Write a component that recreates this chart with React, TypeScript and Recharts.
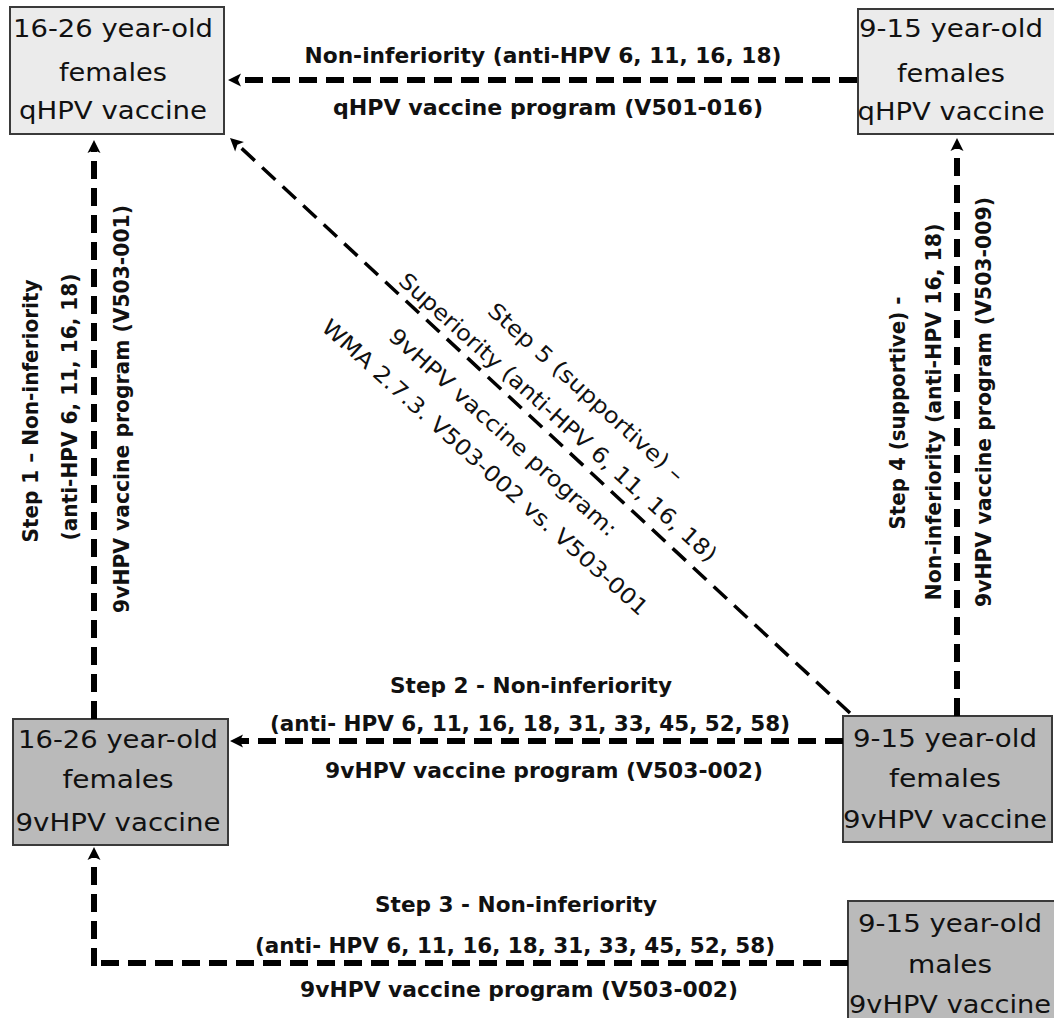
import React from "react";
import { ScatterChart, XAxis, YAxis, ReferenceArea, ReferenceLine, Scatter } from "recharts";

const W = 1054;
const H = 1018;

// ---------- content ----------
const nodeLines: string[][] = [
  ["16-26 year-old", "females", "qHPV vaccine"],
  ["9-15 year-old", "females", "qHPV vaccine"],
  ["16-26 year-old", "females", "9vHPV vaccine"],
  ["9-15 year-old", "females", "9vHPV vaccine"],
  ["9-15 year-old", "males", "9vHPV vaccine"],
];
const nodeVaccine = ["qHPV", "qHPV", "9vHPV", "9vHPV", "9vHPV"];

const linkQ = ["Non-inferiority (anti-HPV 6, 11, 16, 18)", "qHPV vaccine program (V501-016)"];
const link1 = ["Step 1 – Non-inferiority", "(anti-HPV 6, 11, 16, 18)", "9vHPV vaccine program (V503-001)"];
const link2 = ["Step 2 - Non-inferiority", "(anti- HPV 6, 11, 16, 18, 31, 33, 45, 52, 58)", "9vHPV vaccine program (V503-002)"];
const link3 = ["Step 3 - Non-inferiority", "(anti- HPV 6, 11, 16, 18, 31, 33, 45, 52, 58)", "9vHPV vaccine program (V503-002)"];
const link4 = ["Step 4 (supportive) -", "Non-inferiority (anti-HPV 16, 18)", "9vHPV vaccine program (V503-009)"];
const link5 = ["Step 5 (supportive) –", "Superiority (anti-HPV 6, 11, 16, 18)", "9vHPV vaccine program:", "WMA 2.7.3. V503-002 vs. V503-001"];

// ---------- layout (diagram coordinates) ----------
const nodeFrames = [
  [10, 224, 7, 134],
  [858, 1060, 9, 134],
  [13, 228, 719, 845],
  [843, 1052, 716, 842],
  [848, 1060, 901, 1030],
];
const nodeTextX = [113, 951, 118, 945, 950];
const nodeBaselines = [
  [37, 81, 119],
  [37, 82, 120],
  [748, 788, 831],
  [747, 787, 828],
  [932, 973, 1013],
];
const nodeTextLen = [
  [200, 108, 188],
  [184, 108, 187],
  [200, 111, 205],
  [184, 112, 204],
  [184, 84, 202],
];

const placeQ = [[543, 63, 477], [548, 115, 430]];
const place1 = [[38, 411, 263], [77, 407, 267], [129, 409, 408]];
const place2 = [[531, 693, 282], [530, 731, 520], [544, 778, 438]];
const place3 = [[516, 912, 282], [515, 953, 520], [519, 997, 438]];
const place4 = [[905, 413, 233], [941, 412, 377], [991, 402, 410]];
const place5 = [[581, 398, 255], [553, 423, 419], [498, 438, 298], [480, 473, 430]];

// connectors: [x1, y1, x2, y2, heavy?]
const segments = [
  [857, 80, 238, 80, 1],
  [850, 713, 238, 145, 0],
  [94, 719, 94, 150, 1],
  [957, 716, 957, 148, 1],
  [843, 741, 240, 741, 1],
  [848, 963, 91, 963, 1],
  [94, 966, 94, 857, 1],
];
// arrow tips: x, y, direction (deg)
const arrowTips = [
  { x: 228, y: 80, dir: 180 },
  { x: 230, y: 138, dir: 222.8 },
  { x: 94, y: 140, dir: -90 },
  { x: 957, y: 138, dir: -90 },
  { x: 230, y: 741, dir: 180 },
  { x: 94, y: 847, dir: -90 },
];

const FONT = '"DejaVu Sans", "Liberation Sans", sans-serif';

type Lbl = { x: number; y: number; text: string; angle: number; size: number; weight: number; len: number };

const labels: Lbl[] = [];
nodeLines.forEach((lines, i) =>
  lines.forEach((t, j) =>
    labels.push({ x: nodeTextX[i], y: nodeBaselines[i][j], text: t, angle: 0, size: 24, weight: 400, len: nodeTextLen[i][j] })
  )
);
const addLink = (texts: string[], place: number[][], angle: number, size: number, weight: number) =>
  texts.forEach((t, i) =>
    labels.push({ x: place[i][0], y: place[i][1], text: t, angle, size, weight, len: place[i][2] })
  );
addLink(linkQ, placeQ, 0, 22, 700);
addLink(link1, place1, -90, 22, 700);
addLink(link2, place2, 0, 22, 700);
addLink(link3, place3, 0, 22, 700);
addLink(link4, place4, -90, 22, 700);
addLink(link5, place5, 42, 22, 400);

const LabelShape = (props: any) => {
  const { cx, cy, payload } = props;
  const p: Lbl = payload;
  return (
    <text
      x={cx}
      y={cy}
      transform={p.angle ? `rotate(${p.angle} ${cx} ${cy})` : undefined}
      textAnchor="middle"
      fontFamily={FONT}
      fontSize={p.size}
      fontWeight={p.weight}
      textLength={p.len}
      lengthAdjust="spacingAndGlyphs"
      fill="#111"
    >
      {p.text}
    </text>
  );
};

const ArrowShape = (props: any) => {
  const { cx, cy, payload } = props;
  return (
    <polygon
      points="0,0 -13,-6.5 -10,0 -13,6.5"
      transform={`translate(${cx} ${cy}) rotate(${payload.dir})`}
      fill="#000"
    />
  );
};

export default function App() {
  return (
    <div style={{ position: "absolute", left: 0, top: 0, width: W, height: H, background: "#fff" }}>
      <ScatterChart width={W} height={H} margin={{ top: 0, right: 0, bottom: 0, left: 0 }}>
        <XAxis type="number" dataKey="x" domain={[0, W]} allowDataOverflow hide />
        <YAxis type="number" dataKey="y" domain={[0, H]} allowDataOverflow reversed hide />
        {nodeFrames.map((f, i) => (
          <ReferenceArea
            key={"box" + i}
            x1={f[0]}
            x2={f[1]}
            y1={f[2]}
            y2={f[3]}
            ifOverflow="visible"
            fill={nodeVaccine[i] === "qHPV" ? "#ebebeb" : "#bababa"}
            fillOpacity={1}
            stroke="#3a3a3a"
            strokeWidth={2}
          />
        ))}
        {segments.map((s, i) => (
          <ReferenceLine
            key={"seg" + i}
            segment={[{ x: s[0], y: s[1] }, { x: s[2], y: s[3] }]}
            ifOverflow="visible"
            stroke="#000"
            strokeWidth={s[4] ? 6 : 3.5}
            strokeDasharray={s[4] ? "18 9" : "18 10"}
          />
        ))}
        <Scatter data={arrowTips} shape={ArrowShape} isAnimationActive={false} />
        <Scatter data={labels} shape={LabelShape} isAnimationActive={false} />
      </ScatterChart>
    </div>
  );
}
